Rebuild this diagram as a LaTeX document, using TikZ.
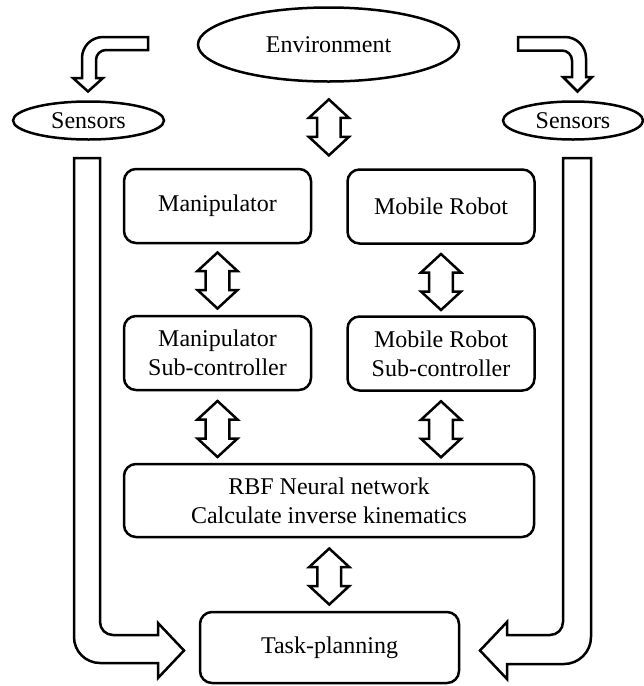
\documentclass[tikz,border=0pt]{standalone}
\usepackage{fontspec}
\setmainfont{Liberation Serif}
\usetikzlibrary{shapes.geometric,calc}
\tikzset{
  lw/.style={line width=2.5pt},
  txt/.style={font=\fontsize{24}{29}\selectfont, align=center, inner sep=0pt},
  box/.style={txt, lw, draw, rounded corners=12pt, minimum width=187pt, minimum height=74pt},
  oval/.style={txt, lw, draw, ellipse},
  blk/.style={lw, draw=black, fill=white, line join=miter},
  dbl/.pic={\draw[blk] (0,-28) -- (20,-9.5) -- (11.8,-9.5) -- (11.8,9.5) -- (20,9.5) -- (0,28)
      -- (-20,9.5) -- (-11.8,9.5) -- (-11.8,-9.5) -- (-20,-9.5) -- cycle;}
}
\begin{document}
\begin{tikzpicture}[x=1pt,y=-1pt]
\useasboundingbox (0,0) rectangle (644,686);

% nodes
\node[oval, minimum width=261pt, minimum height=74pt] (env) at (328.5,44.5) {Environment};
\node[oval, minimum width=151pt, minimum height=38pt] (sensL) at (88.5,120.5) {Sensors};
\node[oval, minimum width=140pt, minimum height=38pt] (sensR) at (573,120.5) {Sensors};
\node[box] (manip) at (217.5,206) {Manipulator};
\node[box] (mobile) at (441,206.5) {Mobile Robot};
\node[box] (manipSub) at (217.5,353) {Manipulator\\Sub-controller};
\node[box] (mobileSub) at (441,353.5) {Mobile Robot\\Sub-controller};
\node[box, minimum width=410pt, minimum height=73pt] (rbf) at (329,500.5) {RBF Neural network\\Calculate inverse kinematics};
\node[box, minimum width=259pt, minimum height=71pt] (task) at (329.5,647.5) {Task-planning};

% double block arrows between named nodes
\coordinate (topmid) at ($(manip.north)!0.5!(mobile.north)$);
\pic at ($($(env.south)!0.5!(topmid)$)+(0,2)$) {dbl};
\pic at ($($(manip.south)!0.5!(manipSub.north)$)+(0,1)$) {dbl};
\pic at ($($(mobile.south)!0.5!(mobileSub.north)$)+(0,2)$) {dbl};
\pic at ($($(manipSub.south)!0.5!(rbf.north -| manipSub.south)$)+(0,2)$) {dbl};
\pic at ($($(mobileSub.south)!0.5!(rbf.north -| mobileSub.south)$)+(0,2)$) {dbl};
\pic at ($($(rbf.south)!0.5!(task.north)$)+(0,2)$) {dbl};

% bent arrows from environment to sensors
\draw[blk] (148,37) -- (103,37) .. controls (91.4,37) and (82,46.4) .. (82,58) -- (82,78)
  -- (73,78) -- (88,91.5) -- (103,78) -- (96,78) -- (96,60)
  .. controls (96,54.5) and (100.5,50) .. (106,50) -- (148,50) -- cycle;
\draw[blk] (518,37) -- (565,37) .. controls (576.6,37) and (586,46.4) .. (586,58) -- (586,77)
  -- (592,77) -- (577.5,91.5) -- (563,77) -- (572,77) -- (572,60.5)
  .. controls (572,55) and (567.5,50.5) .. (562,50.5) -- (518,50.5) -- cycle;

% big arrows from sensors to task-planning
\draw[blk] (100,158) -- (100,622) .. controls (100,629.2) and (105.8,635) .. (113,635)
  -- (158,635) -- (158,623) -- (184,650.5) -- (158,678) -- (158,663) -- (100,663)
  .. controls (85.6,663) and (74,651.4) .. (74,637) -- (74,158) -- cycle;
\draw[blk] (563,158) -- (563,622) .. controls (563,629.2) and (557.2,635) .. (550,635)
  -- (507,635) -- (507,622) -- (480,650.5) -- (507,679) -- (507,664) -- (564,664)
  .. controls (578.9,664) and (591,651.9) .. (591,637) -- (591,158) -- cycle;
\end{tikzpicture}
\end{document}
